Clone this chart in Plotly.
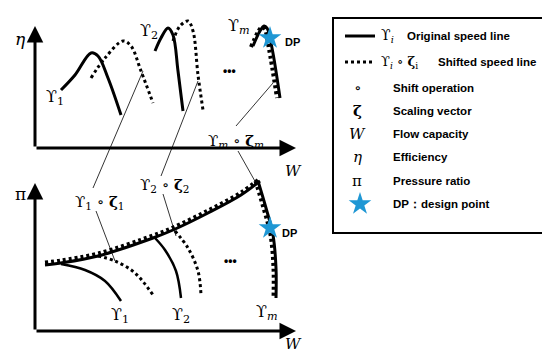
import plotly.graph_objects as go

# ---- schematic curve data (canvas units) ----
# top panel (efficiency map)
top_y1_x = [53, 67, 83, 90, 100, 113]
top_y1_y = [82, 67, 45, 48, 70, 107]
top_y1s_x = [83, 97, 115, 123, 133, 145]
top_y1s_y = [70, 50, 33, 38, 63, 95]
top_y2_x = [147, 153, 160, 165, 170, 175]
top_y2_y = [43, 30, 20, 27, 63, 103]
top_y2s_x = [165, 172, 180, 185, 190, 195]
top_y2s_y = [33, 18, 13, 23, 67, 102]
top_ym_x = [245, 252, 256, 259, 264, 272]
top_ym_y = [38, 23, 18, 20, 40, 90]
top_yms_x = [243, 250, 254, 257, 261, 269]
top_yms_y = [39, 24, 19, 22, 41, 90]

# bottom panel (pressure-ratio map)
surge_x = [37, 53, 90, 145, 165, 200, 233, 252]
surge_y = [257, 255, 248, 230, 222, 205, 187, 173]
bot_ym_x = [250, 258, 265, 268, 268]
bot_ym_y = [173, 200, 227, 260, 290]
bot_y1_x = [53, 77, 97, 113]
bot_y1_y = [256, 262, 273, 293]
bot_y1s_x = [90, 107, 127, 145]
bot_y1s_y = [248, 253, 265, 287]
bot_y2_x = [147, 157, 168, 173]
bot_y2_y = [230, 242, 263, 290]
bot_y2s_x = [167, 180, 190, 193]
bot_y2s_y = [223, 240, 263, 287]

# design points
dp_x = [262, 262]
dp_y = [30, 220]

U = "ϒ"
legend_kinds = ["line", "dot", "sym", "sym", "sym", "sym", "sym", "star"]
legend_symbols = [U + "<sub><i>i</i></sub>", U + "<sub><i>i</i></sub> ∘ <b>ζ</b><sub>i</sub>", "∘",
                  "<b>ζ</b>", "<i>W</i>", "<i>η</i>", "π", ""]
legend_labels = ["Original speed line", "Shifted speed line", "Shift operation", "Scaling vector",
                 "Flow capacity", "Efficiency", "Pressure ratio", "DP：design point"]
legend_rows_y = [28, 54, 80, 103, 126, 149, 173, 196]

BLUE = "#1f97d4"
SERIF = "DejaVu Serif"
SANS = "Liberation Sans"

fig = go.Figure()

def solid(x, y, w=3):
    fig.add_trace(go.Scatter(x=x, y=y, mode="lines", line=dict(color="black", width=w, shape="spline"),
                             hoverinfo="skip", showlegend=False))

def dotted(x, y, w=3):
    fig.add_trace(go.Scatter(x=x, y=y, mode="lines",
                             line=dict(color="black", width=w, shape="spline", dash="3px,3px"),
                             hoverinfo="skip", showlegend=False))

# top panel curves
solid(top_y1_x, top_y1_y)
dotted(top_y1s_x, top_y1s_y)
solid(top_y2_x, top_y2_y)
dotted(top_y2s_x, top_y2s_y)
solid(top_ym_x, top_ym_y)
dotted(top_yms_x, top_yms_y, 4)

# bottom panel curves
solid(surge_x, surge_y, 3)
dotted(surge_x, [v - 2.5 for v in surge_y], 4)
solid(bot_ym_x, bot_ym_y, 3)
dotted([v - 2.5 for v in bot_ym_x], bot_ym_y, 4)
solid(bot_y1_x, bot_y1_y, 2.5)
dotted(bot_y1s_x, bot_y1s_y)
solid(bot_y2_x, bot_y2_y, 2.5)
dotted(bot_y2s_x, bot_y2s_y)

# leader lines
leaders = [
    ([135, 85], [63, 180]), ([88, 107], [203, 253]),
    ([190, 153], [73, 168]), ([155, 168], [186, 228]),
    ([265, 228], [75, 118]), ([230, 248], [143, 175]),
]
for lx, ly in leaders:
    fig.add_trace(go.Scatter(x=lx, y=ly, mode="lines", line=dict(color="black", width=0.8),
                             hoverinfo="skip", showlegend=False))

# design point stars
fig.add_trace(go.Scatter(x=dp_x, y=dp_y, mode="markers",
                         marker=dict(symbol="star", size=17, color=BLUE, line=dict(width=0)),
                         hoverinfo="skip", showlegend=False))

# axes with arrows
for (x0, y0, x1, y1) in [(27, 140, 27, 18), (27, 140, 288, 140), (27, 323, 27, 175), (27, 323, 288, 323)]:
    fig.add_annotation(x=x1, y=y1, ax=x0, ay=y0, xref="x", yref="y", axref="x", ayref="y",
                       text="", showarrow=True, arrowhead=2, arrowsize=1.1, arrowwidth=3, arrowcolor="black")

def txt(x, y, s, size=15, font=SERIF, anchor="center", color="black"):
    fig.add_annotation(x=x, y=y, xref="x", yref="y", text=s, showarrow=False,
                       font=dict(family=font, size=size, color=color), xanchor=anchor, yanchor="middle")

txt(12, 31, "<i>η</i>", 17)
txt(12, 186, "π", 17)
txt(285, 163, "<i>W</i>", 15)
txt(285, 336, "<i>W</i>", 15)

txt(47, 89, U + "<sub>1</sub>", 16)
txt(141, 23, U + "<sub>2</sub>", 16)
txt(231, 18, U + "<sub><i>m</i></sub>", 16)
txt(221, 63, "<b>•••</b>", 12, SANS)
txt(275, 34, "<b>DP</b>", 11, SANS, "left")
txt(228, 133, U + "<sub><i>m</i></sub> ∘ <b>ζ</b><sub><i>m</i></sub>", 15)

txt(91, 194, U + "<sub>1</sub> ∘ <b>ζ</b><sub>1</sub>", 15)
txt(156, 177, U + "<sub>2</sub> ∘ <b>ζ</b><sub>2</sub>", 15)
txt(112, 307, U + "<sub>1</sub>", 16)
txt(173, 307, U + "<sub>2</sub>", 16)
txt(259, 304, U + "<sub><i>m</i></sub>", 16)
txt(222, 253, "<b>•••</b>", 12, SANS)
txt(272, 225, "<b>DP</b>", 11, SANS, "left")

# legend box
fig.add_shape(type="rect", x0=325, y0=10, x1=544, y1=225, xref="x", yref="y",
              line=dict(color="black", width=2), fillcolor="white", layer="below")

for kind, sym, label, y in zip(legend_kinds, legend_symbols, legend_labels, legend_rows_y):
    if kind == "line":
        fig.add_trace(go.Scatter(x=[337, 367], y=[y, y], mode="lines", line=dict(color="black", width=3),
                                 hoverinfo="skip", showlegend=False))
        txt(371, y, sym, 14, SERIF, "left")
        txt(397, y, "<b>" + label + "</b>", 11.5, SANS, "left")
    elif kind == "dot":
        fig.add_trace(go.Scatter(x=[337, 367], y=[y, y], mode="lines",
                                 line=dict(color="black", width=3, dash="3px,3px"),
                                 hoverinfo="skip", showlegend=False))
        txt(371, y, sym, 13, SERIF, "left")
        txt(428, y, "<b>" + label + "</b>", 11.5, SANS, "left")
    elif kind == "star":
        fig.add_trace(go.Scatter(x=[352], y=[y], mode="markers",
                                 marker=dict(symbol="star", size=17, color=BLUE, line=dict(width=0)),
                                 hoverinfo="skip", showlegend=False))
        txt(383, y, "<b>" + label + "</b>", 11.5, SANS, "left")
    else:
        txt(349, y, sym, 15, SERIF, "center")
        txt(383, y, "<b>" + label + "</b>", 11.5, SANS, "left")

fig.update_layout(
    width=550, height=353, margin=dict(l=0, r=0, t=0, b=0),
    paper_bgcolor="white", plot_bgcolor="white",
    xaxis=dict(range=[0, 550], visible=False, fixedrange=True),
    yaxis=dict(range=[353, 0], visible=False, fixedrange=True),
    showlegend=False,
)
fig.write_html("out.html")
